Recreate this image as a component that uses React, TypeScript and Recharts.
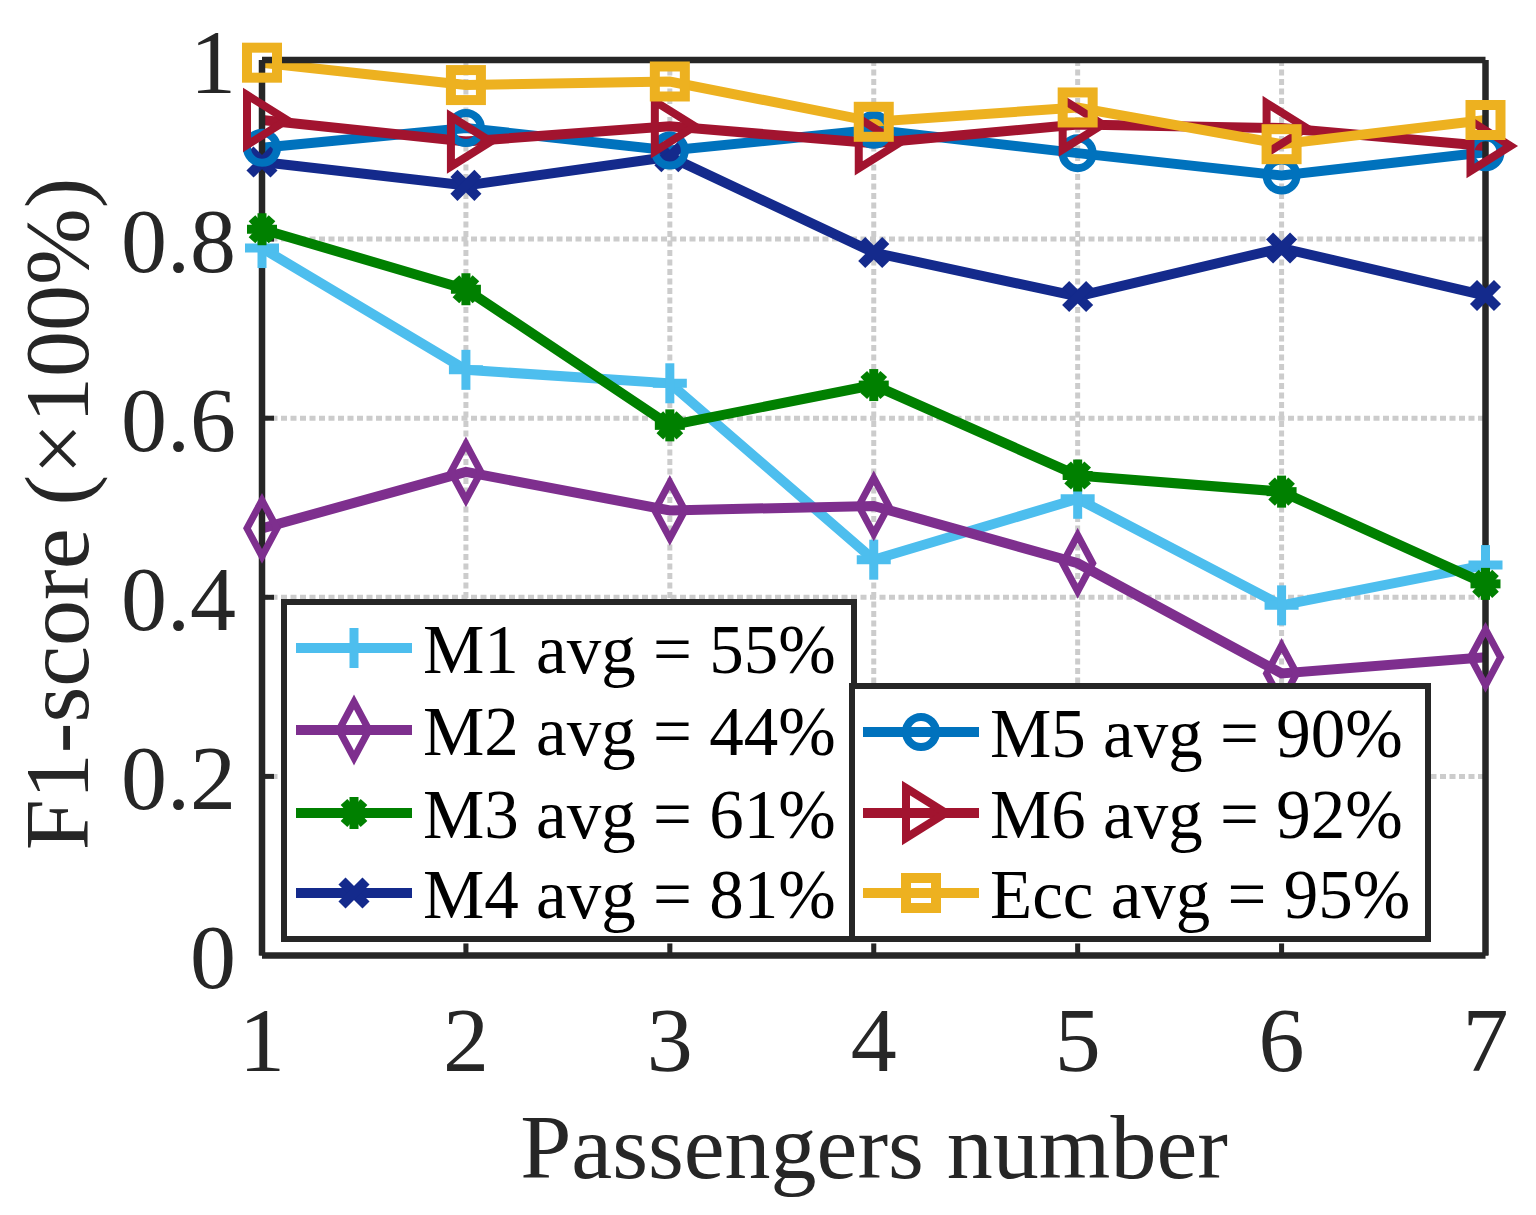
import React from 'react';
import { LineChart, Line, XAxis, YAxis, CartesianGrid } from 'recharts';

// x categories (number of passengers)
const passengers = [1, 2, 3, 4, 5, 6, 7];
const yTicks = [0, 0.2, 0.4, 0.6, 0.8, 1];

// F1-score per method
const m1 = [0.79, 0.654, 0.639, 0.442, 0.51, 0.391, 0.436];
const m2 = [0.477, 0.54, 0.497, 0.502, 0.438, 0.315, 0.333];
const m3 = [0.811, 0.744, 0.592, 0.637, 0.536, 0.518, 0.415];
const m4 = [0.886, 0.86, 0.892, 0.785, 0.736, 0.79, 0.737];
const m5 = [0.902, 0.924, 0.899, 0.922, 0.896, 0.871, 0.897];
const m6 = [0.933, 0.909, 0.926, 0.907, 0.928, 0.924, 0.904];
const ecc = [0.997, 0.972, 0.976, 0.931, 0.947, 0.906, 0.933];

const legendLabels = [
  'M1 avg = 55%',
  'M2 avg = 44%',
  'M3 avg = 61%',
  'M4 avg = 81%',
  'M5 avg = 90%',
  'M6 avg = 92%',
  'Ecc avg = 95%',
];

const series = [
  { key: 'm1', values: m1, color: '#4dbeee', marker: 'plus' },
  { key: 'm2', values: m2, color: '#7e2f8e', marker: 'diamond' },
  { key: 'm3', values: m3, color: '#008000', marker: 'star' },
  { key: 'm4', values: m4, color: '#142a8c', marker: 'cross' },
  { key: 'm5', values: m5, color: '#0072bd', marker: 'circle' },
  { key: 'm6', values: m6, color: '#a2142f', marker: 'triangle' },
  { key: 'ecc', values: ecc, color: '#edb120', marker: 'square' },
];

const rows = passengers.map((n, i) => {
  const row: Record<string, number> = { n };
  series.forEach((s) => {
    row[s.key] = s.values[i];
  });
  return row;
});

const FONT = '"Liberation Serif", "Times New Roman", serif';
const AXIS = '#262626';

function Marker({ kind, cx, cy, color }: { kind: string; cx: number; cy: number; color: string }) {
  switch (kind) {
    case 'plus':
      return (
        <g stroke={color} strokeWidth={9} fill="none">
          <line x1={cx - 17} y1={cy} x2={cx + 17} y2={cy} />
          <line x1={cx} y1={cy - 20} x2={cx} y2={cy + 20} />
        </g>
      );
    case 'diamond':
      return (
        <polygon
          points={`${cx},${cy - 28} ${cx + 15},${cy} ${cx},${cy + 28} ${cx - 15},${cy}`}
          fill="none"
          stroke={color}
          strokeWidth={7}
        />
      );
    case 'star':
      return (
        <g stroke={color} strokeWidth={9} fill="none">
          <line x1={cx - 15} y1={cy} x2={cx + 15} y2={cy} />
          <line x1={cx} y1={cy - 16} x2={cx} y2={cy + 16} />
          <line x1={cx - 10} y1={cy - 11} x2={cx + 10} y2={cy + 11} />
          <line x1={cx - 10} y1={cy + 11} x2={cx + 10} y2={cy - 11} />
        </g>
      );
    case 'cross':
      return (
        <g stroke={color} strokeWidth={10} fill="none">
          <line x1={cx - 12} y1={cy - 12} x2={cx + 12} y2={cy + 12} />
          <line x1={cx - 12} y1={cy + 12} x2={cx + 12} y2={cy - 12} />
        </g>
      );
    case 'circle':
      return <circle cx={cx} cy={cy} r={15} fill="none" stroke={color} strokeWidth={8} />;
    case 'triangle':
      return (
        <polygon
          points={`${cx - 15},${cy - 25} ${cx + 25},${cy} ${cx - 15},${cy + 25}`}
          fill="none"
          stroke={color}
          strokeWidth={8}
        />
      );
    default:
      return <rect x={cx - 15} y={cy - 15} width={30} height={30} fill="none" stroke={color} strokeWidth={10} />;
  }
}

const LegendRow = ({ idx, x, y }: { idx: number; x: number; y: number }) => {
  const s = series[idx];
  return (
    <g>
      <line x1={x} y1={y - 25} x2={x + 116} y2={y - 25} stroke={s.color} strokeWidth={10} />
      <Marker kind={s.marker} cx={x + 58} cy={y - 25} color={s.color} />
      <text x={x + 127} y={y} fontSize={69} fontFamily={FONT} fill="#000">
        {legendLabels[idx]}
      </text>
    </g>
  );
};

const YTitle = () => (
  <text
    x={88}
    y={514}
    transform="rotate(-90, 88, 514)"
    textAnchor="middle"
    fontSize={92}
    fontFamily={FONT}
    fill={AXIS}
  >
    F1-score (×100%)
  </text>
);

const XTitle = () => (
  <text x={874} y={1178} textAnchor="middle" fontSize={92} fontFamily={FONT} fill={AXIS}>
    Passengers number
  </text>
);

export default function App() {
  const tickStyle = { fill: AXIS, fontSize: 92, fontFamily: FONT };
  const frame = { stroke: AXIS, strokeWidth: 6.5 };
  const tickLine = { stroke: AXIS, strokeWidth: 5 };
  return (
    <div style={{ position: 'absolute', left: 0, top: 0, width: 1536, height: 1215, background: '#fff' }}>
      <LineChart
        width={1536}
        height={1215}
        data={rows}
        margin={{ top: 59, right: 49.5, bottom: 159.5, left: 162 }}
      >
        <CartesianGrid stroke="#cccccc" strokeWidth={5} strokeDasharray="6 3.5" />
        <XAxis
          type="number"
          dataKey="n"
          domain={[1, 7]}
          ticks={passengers}
          interval={0}
          height={100}
          axisLine={frame}
          tickLine={tickLine}
          tickSize={-12}
          tickMargin={62}
          tick={tickStyle}
          label={<XTitle />}
        />
        <XAxis
          xAxisId="top"
          orientation="top"
          type="number"
          domain={[1, 7]}
          ticks={passengers}
          interval={0}
          height={1}
          axisLine={frame}
          tickLine={tickLine}
          tickSize={-12}
          tick={false}
        />
        <YAxis
          type="number"
          domain={[0, 1]}
          ticks={yTicks}
          interval={0}
          width={100}
          axisLine={frame}
          tickLine={tickLine}
          tickSize={-12}
          tickMargin={38}
          tick={tickStyle}
          label={<YTitle />}
        />
        <YAxis
          yAxisId="right"
          orientation="right"
          type="number"
          domain={[0, 1]}
          ticks={yTicks}
          interval={0}
          width={1}
          axisLine={frame}
          tickLine={tickLine}
          tickSize={-12}
          tick={false}
        />
        {series.map((s) => (
          <Line
            key={s.key}
            dataKey={s.key}
            type="linear"
            stroke={s.color}
            strokeWidth={10}
            isAnimationActive={false}
            activeDot={false}
            dot={(p: any) => (
              <Marker key={`${s.key}-${p.index}`} kind={s.marker} cx={p.cx} cy={p.cy} color={s.color} />
            )}
          />
        ))}
      </LineChart>
      <svg
        width={1536}
        height={1215}
        style={{ position: 'absolute', left: 0, top: 0, pointerEvents: 'none' }}
      >
        <rect x={284} y={602} width={570} height={337} fill="#fff" stroke={AXIS} strokeWidth={6} />
        <rect x={852} y={686} width={576} height={253} fill="#fff" stroke={AXIS} strokeWidth={6} />
        <LegendRow idx={0} x={296} y={673} />
        <LegendRow idx={1} x={296} y={755} />
        <LegendRow idx={2} x={296} y={838} />
        <LegendRow idx={3} x={296} y={918} />
        <LegendRow idx={4} x={863} y={757} />
        <LegendRow idx={5} x={863} y={838} />
        <LegendRow idx={6} x={863} y={918} />
      </svg>
    </div>
  );
}
